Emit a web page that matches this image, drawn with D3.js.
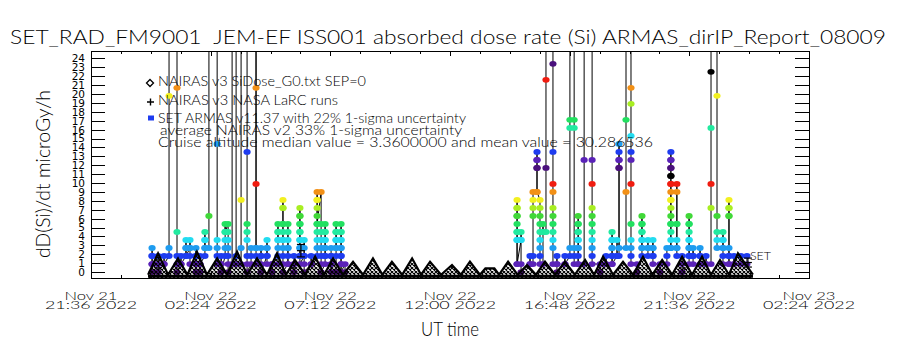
<!DOCTYPE html>
<html>
<head>
<meta charset="utf-8">
<script src="https://cdn.jsdelivr.net/npm/d3@7"></script>
<style>
body { margin: 0; background: #fff; }
svg text { font-family: "Lato", "DejaVu Sans", sans-serif; font-weight: 300; fill: #000; white-space: pre; }
</style>
</head>
<body>
<div id="chart"></div>
<script>
// ARMAS / NAIRAS dose rate plot (IDL style) redrawn with d3
// times are hours after 2022-11-22 00:00 UT, doses in microGy/h

const titleText = "SET_RAD_FM9001  JEM-EF ISS001 absorbed dose rate (Si) ARMAS_dirIP_Report_08009";
const yLabel = "dD(Si)/dt microGy/h";
const xLabel = "UT time";
const legendLabels = [
    "NAIRAS v3 SiDose_G0.txt SEP=0",
    "NAIRAS v3 NASA LaRC runs",
    "SET ARMAS v11.37 with 22% 1-sigma uncertainty",
    "average NAIRAS v2 33% 1-sigma uncertainty",
    "Cruise altitude median value = 3.3600000 and mean value = 30.286536"
];

const xStart = "2022-11-21T21:36Z";
const xEnd = "2022-11-23T02:24Z";
const xMajorTicks = ["2022-11-21T21:36Z", "2022-11-22T02:24Z", "2022-11-22T07:12Z", "2022-11-22T12:00Z",
    "2022-11-22T16:48Z", "2022-11-22T21:36Z", "2022-11-23T02:24Z"];
const yTicks = d3.range(0, 25);
const yRange = [-0.67, 24.84];

// NAIRAS v3 SiDose (diamonds), alternating minima / maxima of each half-orbit bump
const nairasHours = [-0.11, 0.29, 0.69, 1.09, 1.47, 1.85, 2.25, 2.66, 3.06, 3.46, 3.86, 4.26, 4.66, 5.06,
    5.42, 5.78, 6.19, 6.59, 6.95, 7.31, 7.71, 8.11, 8.51, 8.91, 9.29, 9.67, 10.08, 10.48, 10.84, 11.20,
    11.64, 12.08, 12.44, 12.80, 13.20, 13.42, 13.78, 13.97, 14.33, 14.71, 15.09, 15.45, 15.81, 16.21, 16.61,
    17.01, 17.42, 17.78, 18.14, 18.54, 18.94, 19.34, 19.74, 20.12, 20.51, 20.91, 21.31, 21.71, 22.11,
    22.47, 22.83, 23.19, 23.55, 24.15];
const nairasDose = [-0.3, 2.1, -0.3, 1.54, -0.3, 2.28, -0.3, 1.54, -0.3, 2.28, -0.3, 1.54, -0.3, 2.1,
    -0.3, 1.35, -0.3, 1.72, -0.3, 1.54, -0.3, 1.16, -0.3, 1.54, -0.3, 1.16, -0.3, 1.54, -0.3, 1.16,
    -0.3, 0.79, -0.3, 1.16, -0.3, 0.42, 0.42, -0.3, 1.16, -0.3, 0.79, -0.3, 1.16, -0.3, 1.16,
    -0.3, 1.35, -0.3, 1.72, -0.3, 1.16, -0.3, 1.72, -0.3, 1.35, -0.3, 1.72, -0.3, 1.72,
    -0.3, 1.35, -0.3, 2.1, -0.3];

// NAIRAS v3 NASA LaRC runs (+ with error bar)
const larcHours = [6.02, 23.95];
const larcDose = [2.4, 1.07];
const larcLow = [1.7, 0.56];
const larcHigh = [3.1, 1.57];

// SET ARMAS samples, grouped by time; 40 = off scale
const armasColumnHours = [0.05, 0.29, 0.53, 0.73, 1.05, 1.21, 1.41, 1.57, 1.81, 1.97, 2.17, 2.33, 2.66, 2.82,
    2.98, 3.10, 3.26, 3.42, 3.62, 3.86, 4.02, 4.22, 4.42, 4.66, 4.86, 5.10, 5.30, 5.50, 5.74, 5.98, 6.15,
    6.43, 6.67, 6.83, 6.99, 7.23, 7.43, 7.63, 7.79,
    14.69, 14.85, 15.21, 15.33, 15.49, 15.61, 15.73, 15.85, 16.13, 16.29, 16.61, 16.81, 16.98, 17.14,
    17.38, 17.70, 18.02, 18.26, 18.50, 18.70, 18.78, 19.06, 19.26, 19.50, 19.70, 19.94, 20.14, 20.42,
    20.70, 20.86, 21.10, 21.31, 21.59, 21.75, 22.03, 22.27, 22.47, 22.71, 22.95, 23.19, 23.39, 23.67, 23.91];
const armasColumnDose = [
    [0, 0.9, 1.8, 2.7, 1.8, 0.9], [0, 0.9, 1.8, 0.9, 0], [0.9, 1.8, 0.9], [1.8, 2.7, 19.8, 40],
    [40, 20.7, 4.5, 1.8, 0.9, 0], [0.9, 1.8, 0.9], [1.8, 2.7, 3.6, 2.7, 1.8], [2.7, 3.6, 2.7, 1.8, 0.9],
    [0.9, 1.8, 2.7, 1.8, 0.9, 0], [0, 0.9, 1.8, 0.9], [1.8, 2.7, 3.6, 4.5, 3.6, 2.7], [2.7, 6.3, 40],
    [40, 14.4, 3.6, 2.7, 1.8, 0.9], [0.9, 1.8, 0.9, 0], [1.8, 2.7, 3.6, 4.5, 5.4, 4.5],
    [5.4, 4.5, 3.6, 2.7, 1.8, 0.9, 0], [0.9, 40], [40, 1.8, 0.9], [0.9, 2.7, 8.1, 40],
    [40, 13.5, 5.4, 4.5, 3.6, 1.8, 0.9, 0], [0.9, 1.8, 2.7], [2.7, 40, 20.7, 9.9, 2.7, 1.8, 0.9],
    [1.8, 2.7, 1.8, 0.9, 0], [1.8, 2.7, 3.6, 2.7, 1.8, 0.9], [0.9, 0, 0.9],
    [0.9, 1.8, 2.7, 3.6, 4.5, 5.4, 4.5, 3.6], [3.6, 5.4, 7.2, 8.1, 7.2, 5.4, 4.5, 3.6, 2.7, 1.8, 0.9, 0],
    [0.9, 2.7, 3.6, 4.5, 5.4, 2.7, 1.8, 0.9], [0.9, 0, 0.9, 1.8],
    [1.8, 2.7, 3.6, 4.5, 5.4, 6.3, 7.2, 6.3, 5.4, 4.5, 3.6, 2.7, 1.8, 0.9], [1.8, 2.7, 3.6, 1.8, 0.9, 0],
    [0.9, 1.8, 0.9], [1.8, 2.7, 3.6, 4.5, 5.4, 7.2, 8.1, 9.0, 8.1, 6.3, 5.4],
    [9.0, 5.4, 4.5, 3.6, 2.7, 1.8, 0.9, 0], [0.9, 1.8, 2.7, 3.6, 4.5, 5.4, 4.5, 3.6, 2.7, 1.8],
    [1.8, 0.9, 0, 0.9, 1.8, 2.7], [2.7, 3.6, 4.5, 5.4, 4.5, 3.6, 2.7, 1.8, 0],
    [0, 0.9, 1.8, 2.7, 3.6, 4.5, 5.4, 4.5, 3.6, 2.7, 1.8, 0.9, 0], [0.9, 0],
    // second pass
    [0.9, 3.6, 4.5, 5.4, 6.3, 7.2, 8.1, 7.2, 6.3, 4.5, 3.6, 0.9], [3.6, 4.5, 3.6, 0.9, 0], [0.9, 1.8, 0.9],
    [0.9, 1.8, 6.3, 7.2, 8.1, 9.0], [9.0, 11.7, 12.6, 13.5, 12.6, 11.7, 9.0],
    [8.1, 7.2, 6.3, 5.4, 4.5, 3.6, 2.7, 1.8, 0.9], [0.9, 4.5, 5.4, 4.5], [4.5, 11.7, 21.6, 40],
    [40, 23.4, 13.5, 9.9, 9.0, 7.2, 6.3, 5.4, 4.5, 3.6, 2.7, 0.9], [0.9, 1.8, 0.9, 0], [0.9, 1.8, 0.9],
    [1.8, 2.7, 16.2, 17.1, 40], [40, 17.1, 16.2, 2.7, 1.8, 0.9],
    [0.9, 2.7, 3.6, 4.5, 5.4, 6.3, 5.4, 4.5, 3.6, 2.7, 1.8, 0.9], [0.9, 12.6, 40],
    [40, 12.6, 9.9, 7.2, 6.3, 5.4, 4.5, 3.6, 2.7, 1.8, 0.9], [0.9, 0], [0.9, 1.8, 0.9],
    [0.9, 1.8, 2.7, 3.6, 4.5, 3.6, 2.7, 1.8, 0.9], [1.8, 3.6, 1.8], [1.8, 11.7, 12.6, 13.5, 14.4, 12.6, 11.7, 2.7],
    [2.7, 9.0, 17.1, 40], [40, 20.7, 18.9, 15.3, 13.5, 12.6, 9.9, 5.4, 3.6, 2.7, 1.8, 0.9], [0.9, 0],
    [1.8, 2.7, 3.6, 4.5, 5.4, 6.3, 5.4, 4.5, 3.6, 2.7], [2.7, 3.6, 2.7, 1.8], [1.8, 2.7, 3.6, 2.7, 1.8, 0.9],
    [0.9, 0], [0.9, 1.8, 2.7],
    [2.7, 5.4, 6.3, 7.2, 8.1, 9.9, 10.8, 11.7, 12.6, 13.5, 12.6, 11.7, 10.8, 9.9, 9.0, 8.1, 5.4, 4.5, 3.6, 2.7],
    [2.7, 3.6, 5.4, 9.0, 9.9, 5.4, 2.7, 1.8], [1.8, 0.9, 0],
    [0.9, 1.8, 2.7, 3.6, 4.5, 5.4, 6.3, 5.4, 3.6, 2.7, 1.8], [1.8, 2.7, 1.8, 0.9], [0.9, 1.8, 2.7, 1.8, 0.9],
    [0.9, 1.8, 0.9], [0.9, 7.2, 9.9, 16.2, 22.5, 40], [40, 19.8, 6.3, 4.5, 3.6, 2.7],
    [2.7, 3.6, 4.5, 3.6, 2.7, 1.8, 0.9], [0.9, 1.8, 2.7, 6.3, 7.2, 8.1, 7.2, 6.3, 1.8, 0.9],
    [0.9, 1.8, 0.9], [0.9, 1.8], [1.8, 0.9]
];

// IDL colour table cycles every 13 quantisation steps of 0.9 microGy/h
const levelColors = ["#4a107c", "#5a22b8", "#1e3cf0", "#1e9cf0", "#22dcf0", "#22eaa0", "#22e060",
    "#40d838", "#a8ee22", "#f2f020", "#f29016", "#f01c10", "#000000"];

const width = 900, height = 350;
const plot = { left: 91, right: 809, top: 51, bottom: 278 };
const midnight = Date.UTC(2022, 10, 22);
const toDate = h => new Date(midnight + h * 3600e3);

const x = d3.scaleUtc()
    .domain([new Date(xStart), new Date(xEnd)])
    .range([plot.left, plot.right]);
const y = d3.scaleLinear()
    .domain(yRange)
    .range([plot.bottom, plot.top]);

const svg = d3.select("#chart").append("svg")
    .attr("width", width)
    .attr("height", height);

svg.append("rect").attr("width", width).attr("height", height).attr("fill", "#fff");

const defs = svg.append("defs");
defs.append("clipPath").attr("id", "plotClip")
    .append("rect")
    .attr("x", plot.left).attr("y", plot.top)
    .attr("width", plot.right - plot.left).attr("height", plot.bottom - plot.top);

// dense diamond symbols look like a hatch, fake it with a see-through pattern
const hatch = defs.append("pattern").attr("id", "diamondHatch")
    .attr("patternUnits", "userSpaceOnUse")
    .attr("width", 4).attr("height", 4);
hatch.append("path").attr("d", "M0,0 L4,4 M4,0 L0,4").attr("stroke", "#000").attr("stroke-width", 1.1);

// ---- axes (IDL: ticks point inward, drawn on all four sides)
const majorDates = xMajorTicks.map(d => new Date(d));
const minorDates = d3.range(+new Date(xStart), +new Date(xEnd) + 1, 72 * 60e3).map(t => new Date(t));

function styleAxis(g) {
    g.selectAll("path, line").attr("stroke", "#000").attr("stroke-width", 1).attr("shape-rendering", "crispEdges");
    g.selectAll("text").remove();
}

svg.append("g").attr("transform", `translate(0,${plot.bottom})`)
    .call(d3.axisBottom(x).tickValues(majorDates).tickSize(-5).tickSizeOuter(0))
    .call(styleAxis);
svg.append("g").attr("transform", `translate(0,${plot.bottom})`)
    .call(d3.axisBottom(x).tickValues(minorDates).tickSize(-3).tickSizeOuter(0))
    .call(styleAxis);
svg.append("g").attr("transform", `translate(0,${plot.top})`)
    .call(d3.axisTop(x).tickValues(majorDates).tickSize(-5).tickSizeOuter(0))
    .call(styleAxis);
svg.append("g").attr("transform", `translate(0,${plot.top})`)
    .call(d3.axisTop(x).tickValues(minorDates).tickSize(-3).tickSizeOuter(0))
    .call(styleAxis);
svg.append("g").attr("transform", `translate(${plot.right},0)`)
    .call(d3.axisRight(y).tickValues(yTicks).tickSize(-14).tickSizeOuter(0))
    .call(styleAxis);

const yAxis = svg.append("g").attr("transform", `translate(${plot.left},0)`)
    .call(d3.axisLeft(y).tickValues(yTicks).tickSize(-14).tickSizeOuter(0).tickPadding(6).tickFormat(d3.format("d")));
yAxis.selectAll("path, line").attr("stroke", "#000").attr("shape-rendering", "crispEdges");
yAxis.selectAll("text")
    .style("font-family", "DejaVu Sans, sans-serif")
    .style("font-weight", "normal")
    .attr("font-size", 10.5)
    .attr("fill", "#000");

// x tick labels, two lines each
const fmtDay = d3.utcFormat("%b %d");
const fmtTime = d3.utcFormat("%H:%M %Y");
majorDates.forEach(d => {
    const t = svg.append("text")
        .attr("text-anchor", "middle")
        .attr("font-size", 11);
    t.append("tspan")
        .attr("x", x(d)).attr("y", 299.8)
        .attr("textLength", 53).attr("lengthAdjust", "spacingAndGlyphs")
        .text(fmtDay(d));
    t.append("tspan")
        .attr("x", x(d)).attr("y", 308.6)
        .attr("textLength", 92).attr("lengthAdjust", "spacingAndGlyphs")
        .text(fmtTime(d));
});

svg.append("text")
    .attr("x", (plot.left + plot.right) / 2).attr("y", 335.5)
    .attr("text-anchor", "middle")
    .attr("font-size", 19)
    .attr("textLength", 58).attr("lengthAdjust", "spacingAndGlyphs")
    .text(xLabel);

svg.append("text")
    .attr("transform", "translate(50,174) rotate(-90)")
    .attr("text-anchor", "middle")
    .attr("font-size", 19)
    .attr("textLength", 168).attr("lengthAdjust", "spacingAndGlyphs")
    .text(yLabel);

svg.append("text")
    .attr("x", 10).attr("y", 44)
    .attr("font-size", 19)
    .attr("textLength", 876).attr("lengthAdjust", "spacingAndGlyphs")
    .text(titleText);

// ---- data
const plotArea = svg.append("g").attr("clip-path", "url(#plotClip)");

const armasPoints = [];
armasColumnHours.forEach((h, i) => {
    armasColumnDose[i].forEach(v => armasPoints.push({ t: toDate(h), h: h, v: v }));
});
// break the line where there is no data for hours
const armasLinePts = [];
armasPoints.forEach((p, i) => {
    if (i > 0 && p.h - armasPoints[i - 1].h > 3) armasLinePts.push(null);
    armasLinePts.push(p);
});

const armasLine = d3.line()
    .defined(d => d !== null)
    .x(d => x(d.t))
    .y(d => y(d.v));

plotArea.append("path")
    .datum(armasLinePts)
    .attr("d", armasLine)
    .attr("fill", "none")
    .attr("stroke", "#000")
    .attr("stroke-width", 1);

plotArea.selectAll(".armas")
    .data(armasPoints.filter(p => p.v < yRange[1]))
    .enter()
    .append("ellipse")
    .attr("class", "armas")
    .attr("cx", d => x(d.t))
    .attr("cy", d => y(d.v))
    .attr("rx", 3.6)
    .attr("ry", 2.9)
    .attr("fill", d => levelColors[Math.round(d.v / 0.9) % levelColors.length]);

const nairas = nairasHours.map((h, i) => ({ t: toDate(h), v: nairasDose[i] }));
plotArea.append("path")
    .datum(nairas)
    .attr("d", d3.area().x(d => x(d.t)).y0(plot.bottom).y1(d => y(d.v)))
    .attr("fill", "url(#diamondHatch)");
plotArea.append("path")
    .datum(nairas)
    .attr("d", d3.line().x(d => x(d.t)).y(d => y(d.v)))
    .attr("fill", "none")
    .attr("stroke", "#000")
    .attr("stroke-width", 2.2);
plotArea.append("path")
    .datum([nairas[0], nairas[nairas.length - 1]])
    .attr("d", d3.line().x(d => x(d.t)).y(d => y(d.v) + 1.5))
    .attr("stroke", "#000")
    .attr("stroke-width", 3);

larcHours.forEach((h, i) => {
    const cx = x(toDate(h));
    const g = plotArea.append("g").attr("stroke", "#000").attr("stroke-width", 1.2);
    g.append("line").attr("x1", cx).attr("x2", cx).attr("y1", y(larcLow[i])).attr("y2", y(larcHigh[i]));
    g.append("line").attr("x1", cx - 4).attr("x2", cx + 4).attr("y1", y(larcLow[i])).attr("y2", y(larcLow[i]));
    g.append("line").attr("x1", cx - 4).attr("x2", cx + 4).attr("y1", y(larcHigh[i])).attr("y2", y(larcHigh[i]));
    g.append("line").attr("x1", cx - 4).attr("x2", cx + 4).attr("y1", y(larcDose[i])).attr("y2", y(larcDose[i]));
});

// series tag at the end of the ARMAS data
const lastArmas = armasPoints[armasPoints.length - 1];
svg.append("text")
    .attr("x", x(lastArmas.t) + 3).attr("y", y(1.35))
    .attr("font-size", 11.5)
    .attr("textLength", 21).attr("lengthAdjust", "spacingAndGlyphs")
    .text("SET");

// ---- legend
const legendX = 158;
const legendY = [86, 105, 123, 135, 146.5];
const legendLen = [208, 180, 308, 302, 495];
legendLabels.forEach((s, i) => {
    svg.append("text")
        .attr("x", i === 3 ? legendX + 2 : legendX)
        .attr("y", legendY[i])
        .attr("font-size", 14.5)
        .attr("textLength", legendLen[i]).attr("lengthAdjust", "spacingAndGlyphs")
        .text(s);
});
svg.append("path")
    .attr("d", "M150,79.5 L153.5,83 L150,86.5 L146.5,83 Z")
    .attr("fill", "none").attr("stroke", "#000").attr("stroke-width", 1.3);
svg.append("path")
    .attr("d", "M147,102 H154 M150.5,98.5 V105.5")
    .attr("stroke", "#000").attr("stroke-width", 1.4);
svg.append("rect")
    .attr("x", 148).attr("y", 115.5).attr("width", 6).attr("height", 5)
    .attr("fill", levelColors[2]);
</script>
</body>
</html>
